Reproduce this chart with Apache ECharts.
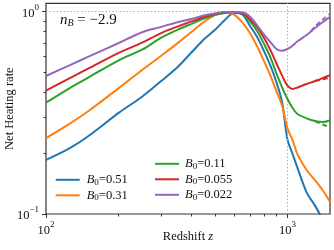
<!DOCTYPE html>
<html><head><meta charset="utf-8">
<script src="https://cdn.jsdelivr.net/npm/echarts@6/dist/echarts.min.js"></script>
<style>html,body{margin:0;padding:0;background:#fff}#c{width:334px;height:250px}</style>
</head><body><div id="c"></div>
<script>
// ---- data ----
const redshift = [100,125,150,200,250,300,350,400,450,500,550,600,650,700,750,800,850,900,950,1000,1050,1100,1200,1300,1400,1500];
const heatB051  = [0.185,0.211,0.243,0.316,0.38,0.454,0.531,0.628,0.729,0.811,0.91,0.985,0.97,0.85,0.747,0.637,0.541,0.448,0.357,0.233,0.198,0.169,0.128,0.11,0.094,0.082];
const heatB031  = [0.237,0.279,0.323,0.419,0.515,0.606,0.697,0.794,0.889,0.963,0.997,0.966,0.886,0.782,0.671,0.569,0.483,0.404,0.343,0.265,0.232,0.197,0.165,0.147,0.131,0.115];
const heatB011  = [0.355,0.418,0.473,0.575,0.649,0.744,0.813,0.871,0.925,0.963,0.985,0.997,0.974,0.897,0.80,0.692,0.595,0.496,0.423,0.37,0.334,0.312,0.297,0.288,0.285,0.29];
const heatB0055 = [0.407,0.468,0.524,0.626,0.703,0.784,0.843,0.895,0.941,0.974,0.99,0.997,0.98,0.92,0.837,0.741,0.646,0.556,0.483,0.431,0.415,0.422,0.439,0.454,0.47,0.486];
const heatB0022 = [0.481,0.543,0.599,0.70,0.791,0.841,0.887,0.92,0.957,0.98,0.995,0.997,0.993,0.945,0.853,0.77,0.706,0.654,0.641,0.654,0.679,0.714,0.767,0.83,0.889,0.94];
// dashed approximations at high redshift
const dashRedshiftPurple = [1250,1300,1400,1500];
const dashB0022 = [0.80,0.845,0.915,0.975];
const dashRedshift = [1300,1400,1500];
const dashB0055 = [0.454,0.463,0.472];
const dashB011  = [0.288,0.277,0.268];
const fieldValues = ['0.51','0.31','0.11','0.055','0.022'];
const xMajorTicks = [100,1000];
const xMinorTicks = [200,300,400,500,600,700,800,900];
const yMajorTicks = [0.1,1];
const yMinorTicks = [0.2,0.3,0.4,0.5,0.6,0.7,0.8,0.9];
const annotation = '−2.9';

// ---- styling ----
const serif = '"Liberation Serif","DejaVu Serif",serif';
const colors = ['#1f77b4','#ff7f0e','#2ca02c','#d62728','#9467bd'];
const ink = '#111';
const tickRich = {
  b: {fontFamily: serif, fontSize: 12.5, color: ink, lineHeight: 17, verticalAlign: 'bottom'},
  e: {fontFamily: serif, fontSize: 9, color: ink, lineHeight: 10, verticalAlign: 'top'}
};
function expLabel(v) {
  const e = Math.round(Math.log10(v));
  return '{b|10}{e|' + (e < 0 ? '−' + (-e) : e) + '}';
}
const legRich = {
  i: {fontFamily: serif, fontStyle: 'italic', fontSize: 12.5, color: ink, lineHeight: 14},
  s: {fontFamily: serif, fontSize: 9, color: ink, lineHeight: 8, verticalAlign: 'bottom'},
  t: {fontFamily: serif, fontSize: 12.5, color: ink, lineHeight: 14}
};
const names = fieldValues.map(v => 'B0=' + v);
const series0 = [heatB051, heatB031, heatB011, heatB0055, heatB0022];

const series = series0.map((arr, k) => ({
  name: names[k], type: 'line', xAxisIndex: 0, yAxisIndex: 0,
  data: redshift.map((z, i) => [z, arr[i]]),
  showSymbol: false, smooth: 0.3, clip: true,
  lineStyle: {width: 2, color: colors[k]}, itemStyle: {color: colors[k]}, z: 3 + k
}));
function dashSeries(name, zs, vals, color) {
  return {name: name + ' approx', type: 'line', data: zs.map((z, i) => [z, vals[i]]),
    showSymbol: false, smooth: 0.3, clip: true, z: 10,
    lineStyle: {width: 2, color: color, type: [5, 3]}, itemStyle: {color: color}};
}
series.push(dashSeries(names[2], dashRedshift, dashB011, colors[2]));
series.push(dashSeries(names[3], dashRedshift, dashB0055, colors[3]));
series.push(dashSeries(names[4], dashRedshiftPurple, dashB0022, colors[4]));
series.push({
  type: 'line', data: [], silent: true,
  markLine: {silent: true, symbol: 'none', animation: false, label: {show: false},
    lineStyle: {color: '#b0b0b0', width: 1, type: [1.5, 2]},
    data: [{yAxis: 1}, {xAxis: 1000}]}
});

const chart = echarts.init(document.getElementById('c'));
chart.setOption({
  animation: false,
  backgroundColor: '#fff',
  grid: {left: 46, right: 4, top: 3.3, bottom: 36, show: true, borderColor: '#333', borderWidth: 1.2,
         containLabel: false, outerBoundsMode: 'none'},
  graphic: [{type: 'text', left: 60, top: 12.5, z: 20,
    style: {text: '{n|n}{s|B}{t| = ' + annotation + '}', rich: {
      n: {fontFamily: serif, fontStyle: 'italic', fontSize: 15, fill: ink, lineHeight: 17},
      s: {fontFamily: serif, fontStyle: 'italic', fontSize: 10, fill: ink, lineHeight: 9, verticalAlign: 'bottom'},
      t: {fontFamily: serif, fontSize: 15, fill: ink, lineHeight: 17}
    }}}],
  legend: [
    {data: names.slice(0, 2), left: 55.7, top: 173.3, orient: 'vertical', padding: 0, itemGap: 2,
     icon: 'rect', itemWidth: 24, itemHeight: 2,
     formatter: n => '{i|B}{s|0}{t|=' + n.split('=')[1] + '}',
     textStyle: {padding: [0, 0, 0, 2], rich: legRich}},
    {data: names.slice(2), left: 155, top: 157.3, orient: 'vertical', padding: 0, itemGap: 2,
     icon: 'rect', itemWidth: 24, itemHeight: 2,
     formatter: n => '{i|B}{s|0}{t|=' + n.split('=')[1] + '}',
     textStyle: {padding: [0, 0, 0, 1], rich: legRich}}
  ],
  xAxis: [
    {type: 'log', logBase: 10, min: 100, max: 1500, position: 'bottom',
     name: '{t|Redshift }{i|z}', nameLocation: 'middle', nameGap: 16.5, nameMoveOverlap: false,
     nameTextStyle: {rich: {
       t: {fontFamily: serif, fontSize: 12.5, color: ink},
       i: {fontFamily: serif, fontStyle: 'italic', fontSize: 12.5, color: ink}}},
     axisLine: {show: false}, splitLine: {show: false},
     axisTick: {show: true, customValues: xMajorTicks, length: 4, lineStyle: {color: '#333', width: 1}},
     axisLabel: {customValues: xMajorTicks, formatter: expLabel, rich: tickRich, margin: 6}},
    {type: 'log', logBase: 10, min: 100, max: 1500, position: 'bottom',
     axisLine: {show: false}, splitLine: {show: false}, axisLabel: {show: false},
     axisTick: {show: true, customValues: xMinorTicks, length: 2.5, lineStyle: {color: '#333', width: 1}}}
  ],
  yAxis: [
    {type: 'log', logBase: 10, min: 0.1, max: 1.1, position: 'left',
     name: 'Net Heating rate', nameLocation: 'middle', nameGap: 30, nameMoveOverlap: false,
     nameTextStyle: {fontFamily: serif, fontSize: 12.5, color: ink},
     axisLine: {show: false}, splitLine: {show: false},
     axisTick: {show: true, customValues: yMajorTicks, length: 4, lineStyle: {color: '#333', width: 1}},
     axisLabel: {customValues: yMajorTicks, formatter: expLabel, rich: tickRich, margin: 7}},
    {type: 'log', logBase: 10, min: 0.1, max: 1.1, position: 'left',
     axisLine: {show: false}, splitLine: {show: false}, axisLabel: {show: false},
     axisTick: {show: true, customValues: yMinorTicks, length: 2.5, lineStyle: {color: '#333', width: 1}}}
  ],
  series: series
});
</script>
</body></html>
